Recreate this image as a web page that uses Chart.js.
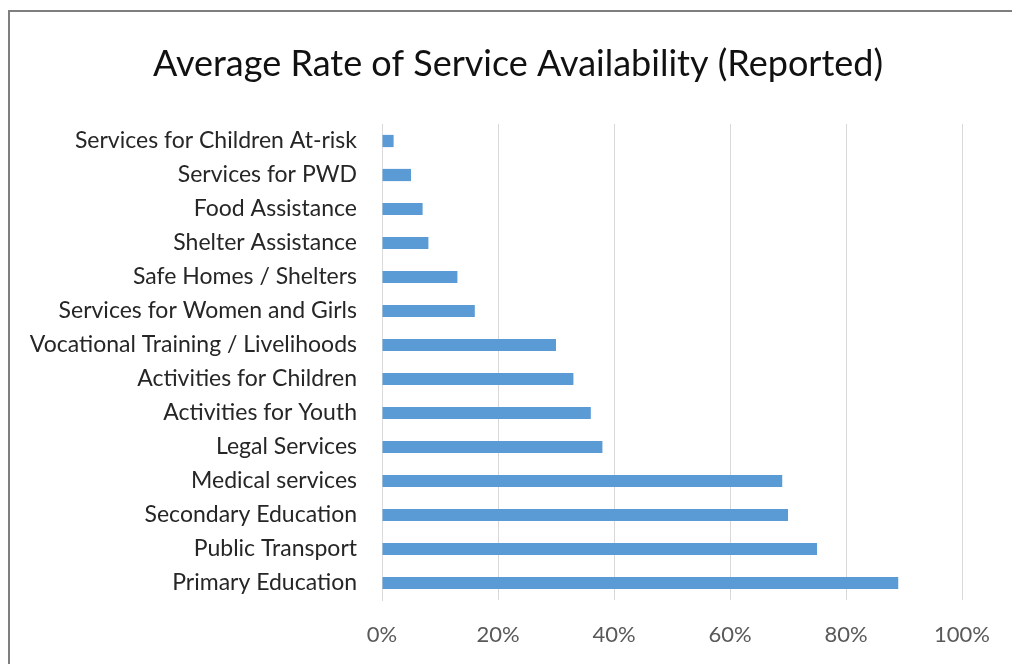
<!DOCTYPE html>
<html>
<head>
<meta charset="utf-8">
<script src="https://cdn.jsdelivr.net/npm/chart.js@4.4.1/dist/chart.umd.min.js"></script>
<style>
  html, body { margin: 0; padding: 0; background: #fff; overflow: hidden; }
  #wrap { position: relative; width: 1012px; height: 664px; overflow: hidden; }
  #frame { position: absolute; left: 8px; top: 10px; width: 1200px; height: 900px; border: 2px solid #7f7f7f; box-sizing: border-box; pointer-events: none; }
  canvas { position: absolute; left: 0; top: 0; }
</style>
</head>
<body>
<div id="wrap">
  <canvas id="c" width="1012" height="664"></canvas>
  <div id="frame"></div>
</div>
<script>
const chartTitle = "Average Rate of Service Availability (Reported)";
const categories = [
  "Services for Children At-risk",
  "Services for PWD",
  "Food Assistance",
  "Shelter Assistance",
  "Safe Homes / Shelters",
  "Services for Women and Girls",
  "Vocational Training / Livelihoods",
  "Activities for Children",
  "Activities for Youth",
  "Legal Services",
  "Medical services",
  "Secondary Education",
  "Public Transport",
  "Primary Education"
];
const availability = [0.02, 0.05, 0.07, 0.08, 0.13, 0.16, 0.30, 0.33, 0.36, 0.38, 0.69, 0.70, 0.75, 0.89];
const xTickValues = [0, 0.2, 0.4, 0.6, 0.8, 1.0];

const FONT = "Lato, 'Open Sans', sans-serif";

const titlePlugin = {
  id: 'fixedTitle',
  afterDraw(chart) {
    const ctx = chart.ctx;
    ctx.save();
    ctx.font = "normal 36px " + FONT;
    ctx.fillStyle = '#111';
    ctx.textAlign = 'center';
    ctx.textBaseline = 'middle';
    ctx.fillText(chartTitle, 518, 64);
    ctx.restore();
  }
};

new Chart(document.getElementById('c'), {
  type: 'bar',
  data: {
    labels: categories,
    datasets: [{
      data: availability,
      backgroundColor: '#5b9bd5',
      borderWidth: 0,
      categoryPercentage: 1.0,
      barPercentage: 0.36
    }]
  },
  options: {
    indexAxis: 'y',
    responsive: false,
    animation: false,
    layout: { padding: { left: 0, right: 45, top: 124, bottom: 0 } },
    plugins: {
      legend: { display: false },
      tooltip: { enabled: false },
      title: { display: false }
    },
    scales: {
      x: {
        min: 0, max: 1,
        afterBuildTicks: (s) => { s.ticks = xTickValues.map(v => ({ value: v })); },
        afterFit: (s) => { s.height = 64; },
        ticks: {
          color: '#595959',
          font: { family: FONT, size: 22 },
          padding: 22,
          callback: (v) => Math.round(v * 100) + '%'
        },
        grid: { color: '#d9d9d9', lineWidth: 1, drawTicks: false },
        border: { display: false }
      },
      y: {
        afterFit: (s) => { s.width = 382; },
        ticks: {
          color: '#262626',
          font: { family: FONT, size: 23 },
          padding: 25,
          autoSkip: false
        },
        grid: { display: false, drawTicks: false },
        border: { display: true, color: '#d9d9d9', width: 1 }
      }
    }
  },
  plugins: [titlePlugin]
});
</script>
</body>
</html>
